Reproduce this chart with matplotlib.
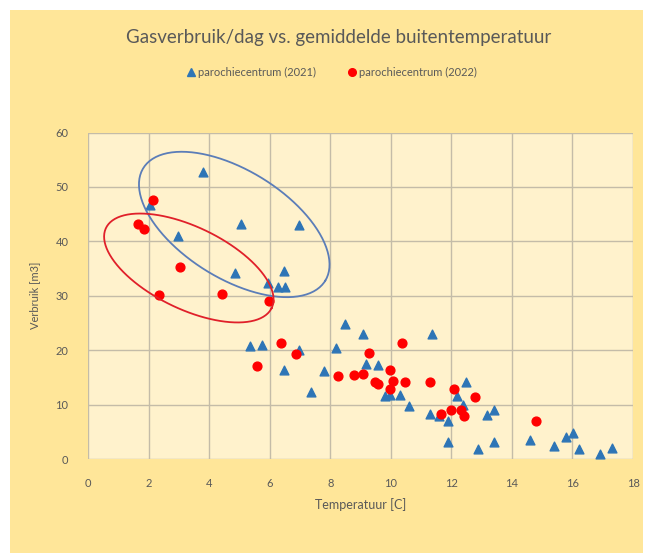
import numpy as np
import matplotlib
matplotlib.use('Agg')
import matplotlib.pyplot as plt
from matplotlib.patches import Rectangle
from matplotlib.lines import Line2D

plt.rcParams['font.family'] = ['Lato', 'DejaVu Sans']

# parochiecentrum 2021 (blue triangles)
temp_2021 = [3.8, 2.05, 2.96, 5.05, 6.97, 4.87, 5.96, 6.47, 6.28, 6.5,
             5.36, 5.76, 8.48, 9.09, 6.97, 8.18, 11.37, 6.47, 7.79, 7.36,
             9.19, 9.58, 9.8, 9.99, 10.3, 10.59, 11.29, 11.6, 11.89, 11.89,
             12.19, 12.49, 12.4, 12.88, 13.19, 13.41, 13.4, 14.59, 15.39, 15.8,
             16.02, 16.2, 16.9, 17.3]
gas_2021 = [52.7, 46.6, 41.0, 43.2, 43.0, 34.2, 32.4, 34.5, 31.6, 31.6,
            20.7, 20.9, 24.8, 23.0, 20.1, 20.4, 22.9, 16.3, 16.1, 12.3,
            17.4, 17.2, 11.6, 11.8, 11.8, 9.8, 8.2, 7.9, 6.9, 3.2,
            11.6, 14.1, 9.9, 1.8, 8.0, 9.0, 3.2, 3.4, 2.3, 4.1,
            4.7, 1.8, 1.0, 2.1]

# parochiecentrum 2022 (red dots)
temp_2022 = [2.16, 1.64, 1.85, 3.05, 2.35, 4.44, 5.98, 5.57, 6.37, 6.86,
             8.27, 8.79, 9.09, 9.27, 9.47, 9.58, 9.97, 10.08, 9.97, 10.38,
             10.48, 11.29, 12.09, 12.79, 11.67, 11.98, 12.31, 12.41, 14.79]
gas_2022 = [47.6, 43.2, 42.3, 35.2, 30.2, 30.4, 29.1, 17.0, 21.4, 19.3,
            15.3, 15.5, 15.6, 19.5, 14.2, 13.7, 16.4, 14.3, 12.8, 21.4,
            14.2, 14.2, 12.9, 11.4, 8.2, 9.0, 9.0, 7.9, 6.9]

title = 'Gasverbruik/dag vs. gemiddelde buitentemperatuur'
label_2021 = 'parochiecentrum (2021)'
label_2022 = 'parochiecentrum (2022)'

W, H = 650, 553
fig = plt.figure(figsize=(W / 100, H / 100), dpi=100)
fig.patch.set_facecolor('white')
fig.patches.append(Rectangle((10 / W, 0), 633 / W, 543 / H, transform=fig.transFigure,
                             facecolor='#FFE699', edgecolor='none', zorder=-10))

ax_l, ax_r, ax_t, ax_b = 88, 633, 132.5, 459
ax = fig.add_axes([ax_l / W, 1 - ax_b / H, (ax_r - ax_l) / W, (ax_b - ax_t) / H])
ax.set_facecolor('#FFF2CC')
ax.set_xlim(0, 18)
ax.set_ylim(0, 60)
ax.set_xticks(np.arange(0, 19, 2))
ax.set_yticks(np.arange(0, 61, 10))
ax.grid(True, color='#C4BCA8', linewidth=1.0)
ax.set_axisbelow(True)
for s in ax.spines.values():
    s.set_visible(False)
ax.tick_params(length=0, colors='#595959', labelsize=8)
ax.tick_params(axis='x', pad=14)
ax.tick_params(axis='y', pad=14)

ax.scatter(temp_2021, gas_2021, marker='^', s=40, color='#2E75B6', zorder=3)
ax.scatter(temp_2022, gas_2022, marker='o', s=40, color='#FF0000', zorder=3)

# hand-drawn ellipses (sizes in pixels, tilted down to the right)
px_x = (ax_r - ax_l) / 18
px_y = (ax_b - ax_t) / 60
t = np.linspace(0, 2 * np.pi, 200)
for cx, cy, a, b, ang, col in [(4.83, 43.1, 107, 54, 31.8, '#5B7DB8'),
                               (3.33, 35.1, 92, 41, 25.8, '#E0202A')]:
    th = np.radians(-ang)
    dx = a * np.cos(t) * np.cos(th) - b * np.sin(t) * np.sin(th)
    dy = a * np.cos(t) * np.sin(th) + b * np.sin(t) * np.cos(th)
    ax.plot(cx + dx / px_x, cy + dy / px_y, color=col, linewidth=1.3, zorder=4)

ax.set_xlabel('Temperatuur [C]', color='#595959', fontsize=9, labelpad=6)
ax.set_ylabel('Verbruik [m3]', color='#595959', fontsize=8, labelpad=11)

fig.text(339 / W, 1 - 38 / H, title, ha='center', va='center', fontsize=13.5, color='#595959')

handles = [Line2D([], [], marker='^', linestyle='none', color='#2E75B6', markersize=5.5),
           Line2D([], [], marker='o', linestyle='none', color='#FF0000', markersize=5.5)]
fig.legend(handles, [label_2021, label_2022], loc='center', bbox_to_anchor=(331 / W, 1 - 72 / H),
           ncol=2, frameon=False, fontsize=8, labelcolor='#595959', handletextpad=0.1,
           columnspacing=2.8, handlelength=1.0)

fig.savefig('out.png', dpi=100)
